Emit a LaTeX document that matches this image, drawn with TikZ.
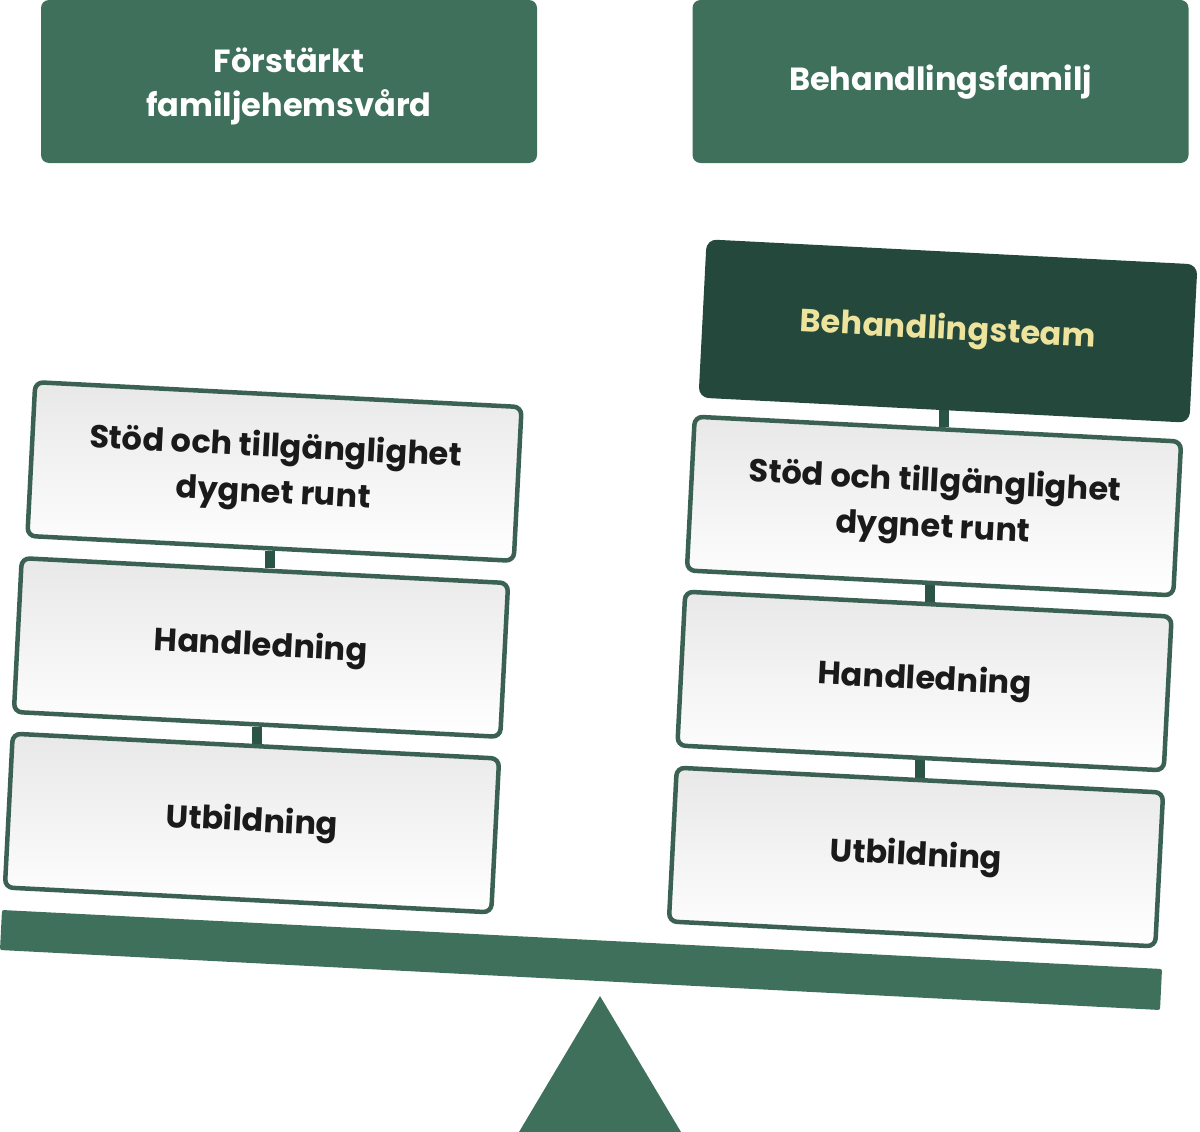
\documentclass[tikz,border=0pt]{standalone}
\usepackage{fontspec}
\setmainfont{Poppins}
\usetikzlibrary{backgrounds}
\definecolor{hdr}{HTML}{3E705C}
\definecolor{bord}{HTML}{3A6151}
\definecolor{dark}{HTML}{24483B}
\definecolor{conn}{HTML}{2A5445}
\definecolor{gold}{HTML}{EDE39C}
\definecolor{ink}{HTML}{1A1A1A}
\begin{document}
\begin{tikzpicture}[x=1pt,y=-1pt,
  hdrtext/.style={text=white, align=center, font=\bfseries\fontsize{32}{44}\selectfont},
  hdrbox/.style={fill=hdr, rounded corners=8pt, minimum width=496pt, minimum height=163pt, hdrtext},
  stackbox/.style={draw=bord, line width=4.5pt, rounded corners=8pt, top color=black!9, bottom color=white,
    minimum width=487pt, minimum height=154pt, rotate=-2.93, align=center, text=ink,
    font=\bfseries\fontsize{32}{46}\selectfont},
  teambox/.style={stackbox, draw=dark, fill=dark, top color=dark, bottom color=dark, text=gold},
  link/.style={conn, line width=10pt}]
\useasboundingbox (0,0) rectangle (1200,1132);
\node[hdrbox, label={[hdrtext, yshift=-5pt]center:Förstärkt\\familjehemsvård}] (hl) at (289,81.5) {};
\node[hdrbox, label={[hdrtext, yshift=-1pt]center:Behandlingsfamilj}] (hr) at (940.5,81.5) {};

\node[stackbox] (L1) at (274.5,471.5) {Stöd och tillgänglighet\\dygnet runt};
\node[stackbox] (L2) at (261,647.5) {Handledning};
\node[stackbox] (L3) at (252,823) {Utbildning};

\node[teambox] (R0) at (948,331) {Behandlingsteam};
\node[stackbox] (R1) at (934,506) {Stöd och tillgänglighet\\dygnet runt};
\node[stackbox] (R2) at (924.5,681) {Handledning};
\node[stackbox] (R3) at (916,857) {Utbildning};

\begin{scope}[on background layer]
\draw[link] (L1.south) -- (L1.south |- L2.north);
\draw[link] (L2.south) -- (L2.south |- L3.north);
\draw[link] (R0.south) -- (R0.south |- R1.north);
\draw[link] (R1.south) -- (R1.south |- R2.north);
\draw[link] (R2.south) -- (R2.south |- R3.north);
\end{scope}

\fill[hdr, rounded corners=2pt] (2,910) -- (1162,969) -- (1160,1010) -- (0,950) -- cycle;
\fill[hdr] (600,996) -- (681,1132) -- (519,1132) -- cycle;
\end{tikzpicture}
\end{document}
